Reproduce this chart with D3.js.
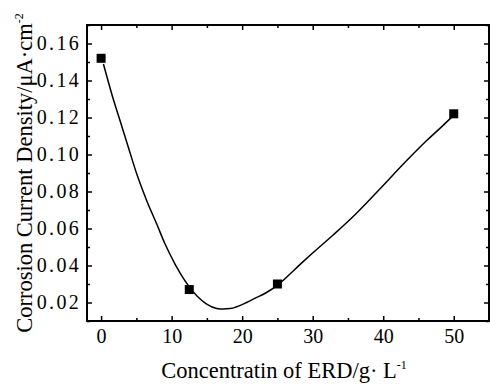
<!DOCTYPE html>
<html>
<head>
<meta charset="utf-8">
<script src="https://cdn.jsdelivr.net/npm/d3@7"></script>
<style>
  body { margin: 0; background: #fff; }
  text { font-family: "Liberation Serif", "Times New Roman", serif; fill: #000; }
</style>
</head>
<body>
<div id="chart"></div>
<script>
// measured points
const concentration = [0, 12.5, 25, 50];
const density = [0.152, 0.027, 0.030, 0.122];

// fitted curve
const fitX = [0.33, 1.52, 2.69, 3.87, 5.06, 6.47, 7.89, 9.07, 10.48, 11.9, 13.56, 14.97, 16.39, 17.3, 18.27, 20.64, 21.57, 23.46, 25.1, 28.19, 30.07, 32.9, 35.74, 39.05, 43.3, 46.13, 48.0, 49.9];
const fitY = [0.1489, 0.1326, 0.1182, 0.1038, 0.0894, 0.0750, 0.0624, 0.0516, 0.0408, 0.0317, 0.0236, 0.0191, 0.0168, 0.0165, 0.0167, 0.0200, 0.0218, 0.0254, 0.0297, 0.0405, 0.0470, 0.0565, 0.0665, 0.0795, 0.0966, 0.1074, 0.1140, 0.1209];

const xTicks = [0, 10, 20, 30, 40, 50];
const yTicks = [0.02, 0.04, 0.06, 0.08, 0.10, 0.12, 0.14, 0.16];

const width = 490;
const height = 388;
const margin = { top: 25, right: 1, bottom: 67, left: 87 };
const w = width - margin.left - margin.right;
const h = height - margin.top - margin.bottom;

const svg = d3.select("#chart")
  .append("svg")
  .attr("width", width)
  .attr("height", height);

const g = svg.append("g")
  .attr("transform", `translate(${margin.left},${margin.top})`);

const x = d3.scaleLinear().domain([-2, 55]).range([0, w]);
const y = d3.scaleLinear().domain([0.01, 0.17]).range([h, 0]);

const xMinor = d3.range(0, 55, 5).filter(v => !xTicks.includes(v));
const yMinor = d3.range(0.01, 0.171, 0.02).map(v => +v.toFixed(2));

function styleAxis(sel) {
  sel.select(".domain").remove();
  sel.attr("font-family", null);
  sel.selectAll("line").attr("stroke", "#000").attr("stroke-width", 1.5);
  sel.selectAll("text")
    .style("font-family", '"Liberation Serif", "Times New Roman", serif')
    .style("font-size", "20px")
    .attr("fill", "#000");
}

// bottom
g.append("g").attr("transform", `translate(0,${h})`)
  .call(d3.axisBottom(x).tickValues(xTicks).tickSize(-5).tickPadding(8).tickFormat(d3.format("d")))
  .call(styleAxis);
g.append("g").attr("transform", `translate(0,${h})`)
  .call(d3.axisBottom(x).tickValues(xMinor).tickSize(-3).tickFormat(""))
  .call(styleAxis);
// top
g.append("g")
  .call(d3.axisTop(x).tickValues(xTicks).tickSize(-5).tickFormat(""))
  .call(styleAxis);
g.append("g")
  .call(d3.axisTop(x).tickValues(xMinor).tickSize(-3).tickFormat(""))
  .call(styleAxis);
// left
g.append("g")
  .call(d3.axisLeft(y).tickValues(yTicks).tickSize(-5).tickPadding(6).tickFormat(d3.format(".2f")))
  .call(styleAxis)
  .selectAll("text").style("letter-spacing", "2.3px");
g.append("g")
  .call(d3.axisLeft(y).tickValues(yMinor).tickSize(-3).tickFormat(""))
  .call(styleAxis);
// right
g.append("g").attr("transform", `translate(${w},0)`)
  .call(d3.axisRight(y).tickValues(yTicks).tickSize(-5).tickFormat(""))
  .call(styleAxis);
g.append("g").attr("transform", `translate(${w},0)`)
  .call(d3.axisRight(y).tickValues(yMinor).tickSize(-3).tickFormat(""))
  .call(styleAxis);

// frame
g.append("rect")
  .attr("width", w)
  .attr("height", h)
  .attr("fill", "none")
  .attr("stroke", "#000")
  .attr("stroke-width", 2);

// fitted curve
const fit = fitX.map((d, i) => ({ x: d, y: fitY[i] }));
g.append("path")
  .datum(fit)
  .attr("fill", "none")
  .attr("stroke", "#000")
  .attr("stroke-width", 1.5)
  .attr("d", d3.line().x(d => x(d.x)).y(d => y(d.y)).curve(d3.curveMonotoneX));

// markers
const s = 9;
g.selectAll(".pt")
  .data(concentration.map((d, i) => ({ x: d, y: density[i] })))
  .enter()
  .append("rect")
  .attr("class", "pt")
  .attr("x", d => x(d.x) - s / 2)
  .attr("y", d => y(d.y) - s / 2)
  .attr("width", s)
  .attr("height", s)
  .attr("fill", "#000");

// axis titles
const xt = svg.append("text")
  .attr("x", 284)
  .attr("y", 378)
  .attr("text-anchor", "middle")
  .style("font-size", "22.5px");
xt.append("tspan").text("Concentratin of ERD/g· L");
xt.append("tspan").attr("dy", -9).style("font-size", "12px").text("-1");

const yt = svg.append("text")
  .attr("transform", `translate(32,${margin.top + h / 2}) rotate(-90)`)
  .attr("text-anchor", "middle")
  .style("font-size", "22.5px");
yt.append("tspan").text("Corrosion Current Density/μA·cm");
yt.append("tspan").attr("dy", -9).style("font-size", "12px").text("-2");
</script>
</body>
</html>
